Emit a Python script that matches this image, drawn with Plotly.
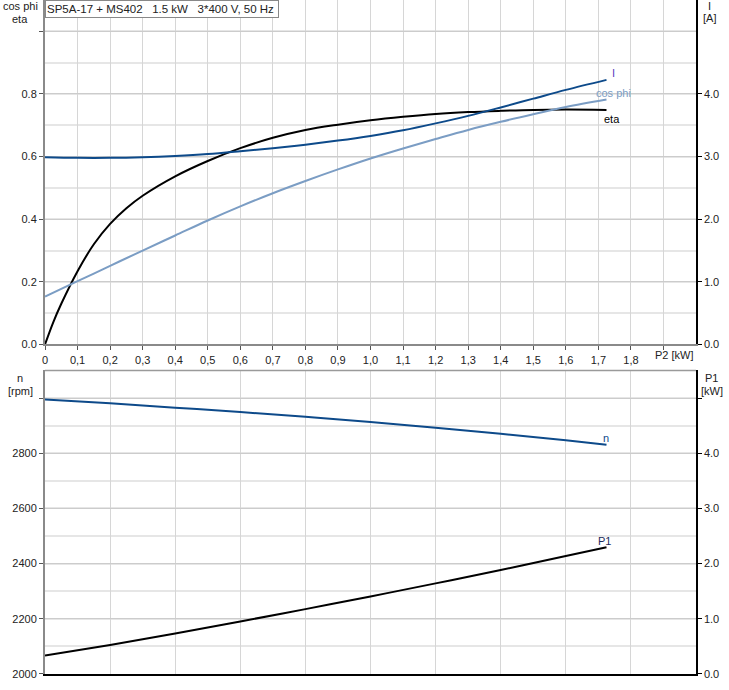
import plotly.graph_objects as go

# ---- data ----
p2_top = [0, 0.025, 0.05, 0.1, 0.15, 0.2, 0.25, 0.3, 0.4, 0.5, 0.6, 0.7, 0.8, 0.9, 1.0, 1.1, 1.2, 1.3, 1.4, 1.5, 1.6, 1.725]
eta = [0, 0.07, 0.13, 0.234, 0.32, 0.385, 0.435, 0.475, 0.537, 0.586, 0.627, 0.66, 0.685, 0.702, 0.716, 0.727, 0.736, 0.742, 0.746, 0.749, 0.750, 0.749]

p2_std = [0, 0.1, 0.2, 0.3, 0.4, 0.5, 0.6, 0.7, 0.8, 0.9, 1.0, 1.1, 1.2, 1.3, 1.4, 1.5, 1.6, 1.725]
cos_phi = [0.153, 0.202, 0.251, 0.300, 0.348, 0.396, 0.441, 0.483, 0.522, 0.559, 0.594, 0.626, 0.656, 0.685, 0.711, 0.735, 0.758, 0.782]
current = [2.99, 2.98, 2.98, 2.99, 3.01, 3.04, 3.085, 3.135, 3.19, 3.255, 3.33, 3.42, 3.53, 3.65, 3.785, 3.925, 4.065, 4.225]

p2_bot = [0, 0.2, 0.4, 0.6, 0.8, 1.0, 1.2, 1.4, 1.6, 1.725]
speed = [2995, 2981.5, 2965.4, 2949.4, 2932, 2913.6, 2892.6, 2870.4, 2847, 2831]
p1 = [0.333, 0.527, 0.733, 0.952, 1.176, 1.406, 1.642, 1.885, 2.139, 2.297]

x_ticks = [round(i * 0.1, 1) for i in range(20)]
x_ticktext = [("0" if v == 0 else f"{v:.1f}".replace(".", ",")) for v in x_ticks[:-1]] + [""]
left_top_ticks = [0, 0.2, 0.4, 0.6, 0.8, 1.0]
left_top_text = ["0.0", "0.2", "0.4", "0.6", "0.8", ""]
right_top_ticks = [0, 1, 2, 3, 4]
right_top_text = ["0.0", "1.0", "2.0", "3.0", "4.0"]
n_ticks = [2000, 2200, 2400, 2600, 2800, 3000]
n_text = ["2000", "2200", "2400", "2600", "2800", ""]
p1_ticks = [0, 1, 2, 3, 4, 5]
p1_text = ["0.0", "1.0", "2.0", "3.0", "4.0", ""]
x_bot_ticks = [0.2, 0.4, 0.6, 0.8, 1.0, 1.2, 1.4, 1.6, 1.8]

title_text = "SP5A-17 + MS402\u00a0\u00a0\u00a01.5 kW\u00a0\u00a0\u00a03*400 V, 50 Hz"

DARK_BLUE = "#0d4a8a"
LIGHT_BLUE = "#7b9dc4"
FONT = "Arial, Liberation Sans, sans-serif"

fig = go.Figure()
fig.add_trace(go.Scatter(x=p2_top, y=eta, mode="lines", line=dict(color="black", width=2, shape="spline", smoothing=1),
                         xaxis="x", yaxis="y", hoverinfo="skip"))
fig.add_trace(go.Scatter(x=p2_std, y=cos_phi, mode="lines", line=dict(color=LIGHT_BLUE, width=2, shape="spline", smoothing=1),
                         xaxis="x", yaxis="y", hoverinfo="skip"))
fig.add_trace(go.Scatter(x=p2_std, y=current, mode="lines", line=dict(color=DARK_BLUE, width=2, shape="spline", smoothing=1),
                         xaxis="x", yaxis="y2", hoverinfo="skip"))
fig.add_trace(go.Scatter(x=p2_bot, y=speed, mode="lines", line=dict(color=DARK_BLUE, width=2, shape="spline", smoothing=1),
                         xaxis="x2", yaxis="y3", hoverinfo="skip"))
fig.add_trace(go.Scatter(x=p2_bot, y=p1, mode="lines", line=dict(color="black", width=2, shape="spline", smoothing=1),
                         xaxis="x2", yaxis="y4", hoverinfo="skip"))

TOP_DOM = [0.4889, 1.0]
BOT_DOM = [0.0, 0.4503]
tickfont = dict(family=FONT, size=11, color="#222222")

fig.update_layout(
    width=729, height=690,
    margin=dict(l=45, r=33, t=0, b=16),
    paper_bgcolor="white", plot_bgcolor="white",
    showlegend=False,
    font=dict(family=FONT, size=11, color="#222222"),
    xaxis=dict(domain=[0, 1], range=[0, 2.0], anchor="y", tickmode="array", tickvals=x_ticks, ticktext=x_ticktext,
               showgrid=True, gridcolor="#d6d6d6", gridwidth=1, ticks="outside", ticklen=4, tickcolor="#555555",
               showline=True, linecolor="#8a8a8a", linewidth=2, tickfont=tickfont, zeroline=False, automargin=False),
    yaxis=dict(domain=TOP_DOM, range=[0, 1.1], anchor="x", tickmode="array", tickvals=left_top_ticks, ticktext=left_top_text,
               showgrid=True, gridcolor="#cccccc", gridwidth=1, ticks="outside", ticklen=4, tickcolor="#555555",
               showline=True, linecolor="#8a8a8a", linewidth=2, tickfont=tickfont, zeroline=False, automargin=False,
               minor=dict(dtick=0.1, tick0=0, showgrid=True, gridcolor="#e6e6e6", gridwidth=2, ticks="")),
    yaxis2=dict(overlaying="y", side="right", anchor="x", range=[0, 5.5], tickmode="array", tickvals=right_top_ticks,
                ticktext=right_top_text, showgrid=False, ticks="outside", ticklen=4, tickcolor="black",
                showline=True, linecolor="black", linewidth=1.5, tickfont=tickfont, zeroline=False, automargin=False),
    xaxis2=dict(domain=[0, 1], range=[0, 2.0], anchor="y3", tickmode="array", tickvals=x_bot_ticks,
                showticklabels=False, showgrid=True, gridcolor="#d6d6d6", gridwidth=1, ticks="",
                showline=True, linecolor="black", linewidth=1.5, zeroline=False, automargin=False),
    yaxis3=dict(domain=BOT_DOM, range=[2000, 3100], anchor="x2", tickmode="array", tickvals=n_ticks, ticktext=n_text,
                showgrid=True, gridcolor="#cccccc", gridwidth=1, ticks="outside", ticklen=4, tickcolor="#555555",
                showline=True, linecolor="#8a8a8a", linewidth=2, tickfont=tickfont, zeroline=False, automargin=False,
                minor=dict(dtick=100, tick0=2000, showgrid=True, gridcolor="#e6e6e6", gridwidth=2, ticks="")),
    yaxis4=dict(overlaying="y3", side="right", anchor="x2", range=[0, 5.5], tickmode="array", tickvals=p1_ticks,
                ticktext=p1_text, showgrid=False, ticks="outside", ticklen=4, tickcolor="black",
                showline=True, linecolor="black", linewidth=1.5, tickfont=tickfont, zeroline=False, automargin=False),
)

# top border of lower plot
fig.add_shape(type="line", xref="paper", yref="paper", x0=0, x1=1, y0=BOT_DOM[1], y1=BOT_DOM[1],
              line=dict(color="#9a9a9a", width=1.5))

ann = []
def label(text, x, y, color="#222222", xref="paper", yref="paper", xanchor="center", yanchor="middle", size=11):
    ann.append(dict(text=text, x=x, y=y, xref=xref, yref=yref, xanchor=xanchor, yanchor=yanchor,
                    showarrow=False, font=dict(family=FONT, size=size, color=color)))

# axis titles
label("cos phi", -0.0384, 0.991)
label("eta", -0.0384, 0.972)
label("I", 1.0215, 0.991)
label("[A]", 1.0215, 0.973)
label("n", -0.0384, 0.439)
label("[rpm]", -0.0384, 0.420)
label("P1", 1.024, 0.439)
label("[kW]", 1.024, 0.420)
label("P2 [kW]", 0.9677, 0.4733)

# curve labels
label("I", 1.735, 0.868, color="#5a3fbf", xref="x", yref="y", xanchor="left")
label("cos phi", 1.745, 0.804, color=LIGHT_BLUE, xref="x", yref="y")
label("eta", 1.742, 0.721, color="black", xref="x", yref="y")
label("n", 1.724, 2855, color=DARK_BLUE, xref="x2", yref="y3")
label("P1", 1.72, 2.41, color="#1a2a5a", xref="x2", yref="y4")

# header box
ann.append(dict(text=title_text, x=0, y=1, xref="paper", yref="paper", xanchor="left", yanchor="top",
                showarrow=False, align="left", bgcolor="white", bordercolor="#888888", borderwidth=1, borderpad=1,
                width=230, height=14, font=dict(family=FONT, size=11.5, color="#222222")))

fig.update_layout(annotations=ann)
fig.write_html("out.html", config={"displayModeBar": False},
               post_script="document.body.style.margin='0';document.body.style.overflow='hidden';")
